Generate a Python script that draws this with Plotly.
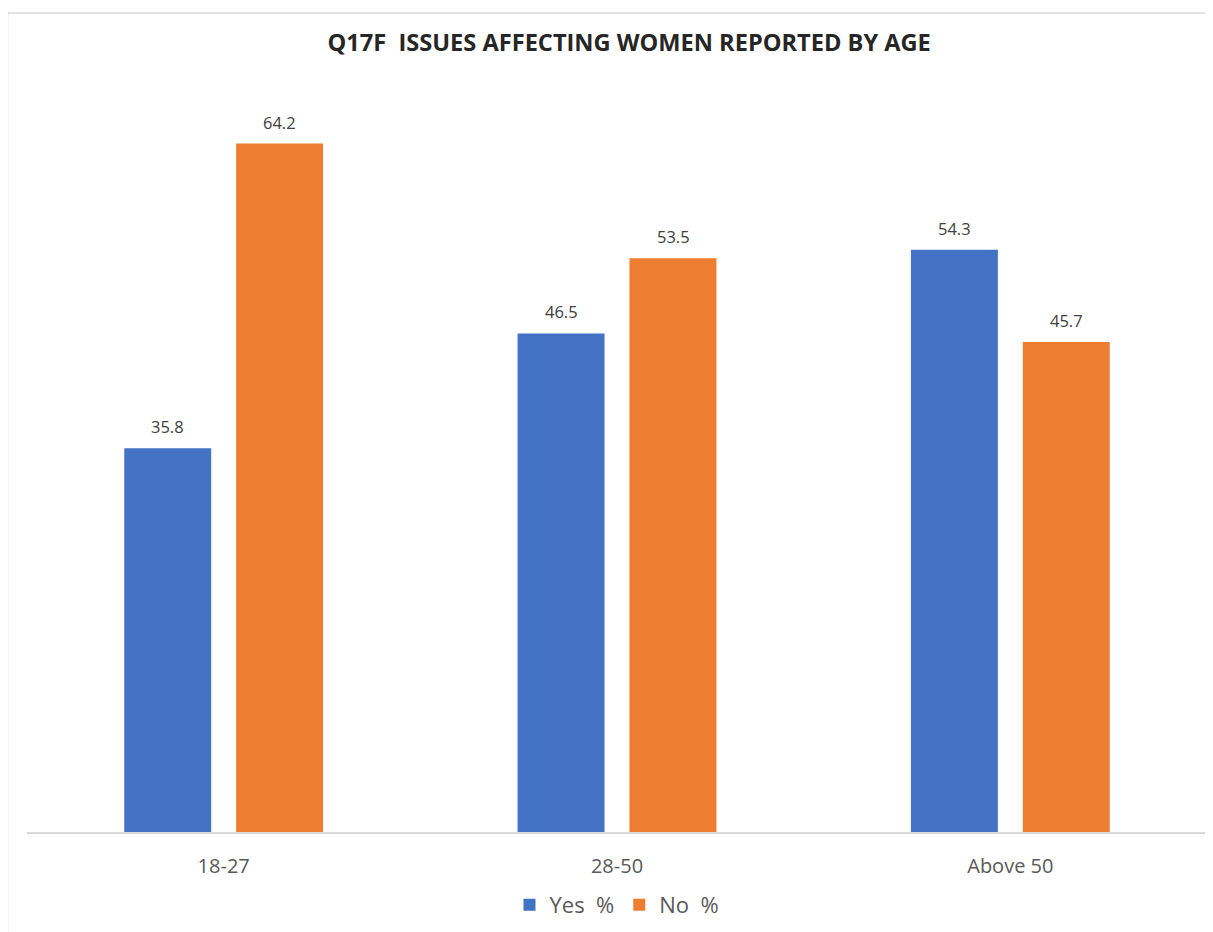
import plotly.graph_objects as go

categories = ["18-27", "28-50", "Above 50"]
yes_values = [35.8, 46.5, 54.3]
no_values = [64.2, 53.5, 45.7]
series_names = ["Yes  %", "No  %"]
title_text = "Q17F  ISSUES AFFECTING WOMEN REPORTED BY AGE"

blue = "#4472C4"
orange = "#ED7D31"

fig = go.Figure()
annotations = []
for name, vals, col, shift in [(series_names[0], yes_values, blue, -56),
                               (series_names[1], no_values, orange, 56)]:
    fig.add_trace(go.Bar(
        x=categories, y=vals, name=name,
        marker=dict(color=col, line=dict(width=0)),
    ))
    for c, v in zip(categories, vals):
        annotations.append(dict(
            x=c, y=v, xref="x", yref="y", text=f"{v:.1f}", showarrow=False,
            xanchor="center", yanchor="bottom", xshift=shift, yshift=8,
            font=dict(family="Open Sans, sans-serif", size=16.5, color="#404040"),
        ))

fig.update_layout(
    width=1205, height=924, autosize=False,
    margin=dict(l=19, r=6, t=73, b=97),
    paper_bgcolor="white", plot_bgcolor="white",
    barmode="group", bargap=0.431, bargroupgap=0.223,
    title=dict(text=f"<b>{title_text}</b>", x=0.5155, xanchor="center",
               y=1 - 35/924, yanchor="middle",
               font=dict(family="Open Sans, sans-serif", size=23.6, color="#262626")),
    xaxis=dict(showline=True, linecolor="#d9d9d9", linewidth=2, ticks="",
               ticklabelstandoff=15,
               tickfont=dict(family="Open Sans, sans-serif", size=20, color="#595959"),
               showgrid=False),
    yaxis=dict(range=[0, 70.04], visible=False, showgrid=False, zeroline=False),
    showlegend=True,
    legend=dict(orientation="h", x=0.5, xanchor="center", y=-0.097, yanchor="middle",
                font=dict(family="Open Sans, sans-serif", size=22, color="#595959"),
                itemwidth=30, traceorder="normal"),
    annotations=annotations,
    shapes=[dict(type="rect", xref="paper", yref="paper",
                 x0=-0.0165, x1=1.2, y0=-0.3, y1=1.0906,
                 line=dict(color="#d9d9d9", width=1.5), layer="below")],
)

fig.write_html("out.html")
